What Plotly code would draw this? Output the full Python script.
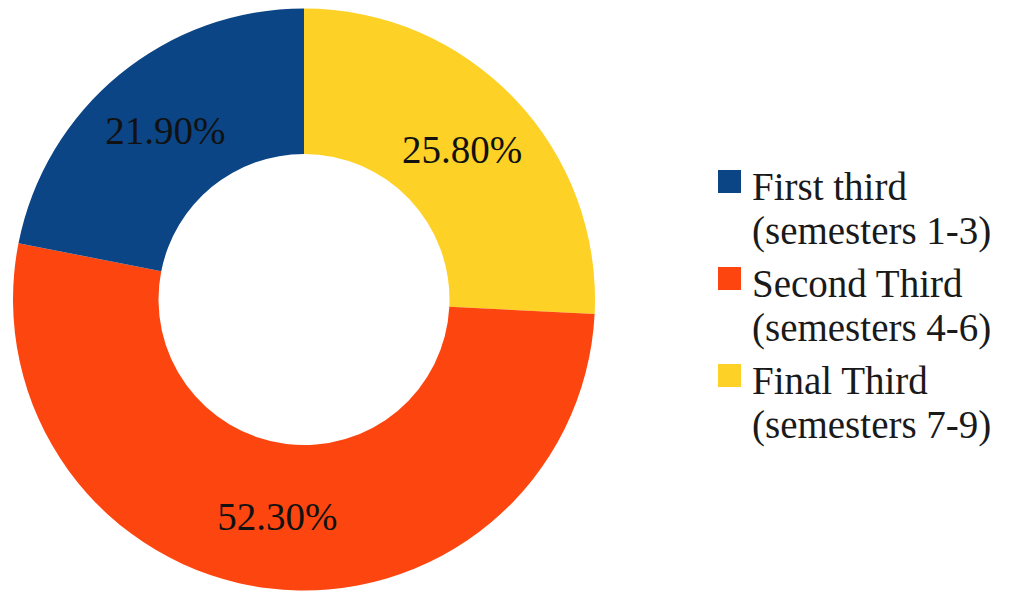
import plotly.graph_objects as go

# Share of responses by study stage
categories = ["First third", "Second Third", "Final Third"]
semesters = ["(semesters 1-3)", "(semesters 4-6)", "(semesters 7-9)"]
shares = [21.9, 52.3, 25.8]
colors = ["#0B4586", "#FD4510", "#FDD126"]

FONT = "Liberation Serif"
W, H = 1011, 596

# Slices run clockwise from 12 o'clock in reverse category order, so the
# first category ends up just left of the top.
fig = go.Figure(
    go.Pie(
        labels=categories[::-1],
        values=shares[::-1],
        sort=False,
        direction="clockwise",
        rotation=0,
        hole=0.5,
        marker=dict(colors=colors[::-1], line=dict(width=0)),
        texttemplate="%{value:.2f}%",
        textposition="inside",
        insidetextorientation="horizontal",
        textfont=dict(family=FONT, size=39, color="#111111"),
        showlegend=False,
        hoverinfo="label+percent",
        domain=dict(x=[13 / W, 595 / W], y=[5 / H, 588 / H]),
    )
)

# Custom legend: colour square plus two-line label per category
shapes = []
annotations = []
item_step = 97
for i, (name, sem, col) in enumerate(zip(categories, semesters, colors)):
    top = 170 + i * item_step
    shapes.append(
        dict(
            type="rect", xref="paper", yref="paper",
            x0=718 / W, x1=741 / W,
            y0=1 - (top + 23) / H, y1=1 - top / H,
            fillcolor=col, line=dict(width=0),
        )
    )
    for j, line in enumerate((name, sem)):
        annotations.append(
            dict(
                text=line, xref="paper", yref="paper",
                x=750 / W, y=1 - (186 + i * item_step + j * 45) / H,
                xanchor="left", yanchor="middle", showarrow=False,
                font=dict(family=FONT, size=39, color="#1a1a1a"),
            )
        )

fig.update_layout(
    width=W,
    height=H,
    margin=dict(l=0, r=0, t=0, b=0),
    paper_bgcolor="white",
    plot_bgcolor="white",
    font=dict(family=FONT),
    shapes=shapes,
    annotations=annotations,
)

fig.write_html("out.html")
